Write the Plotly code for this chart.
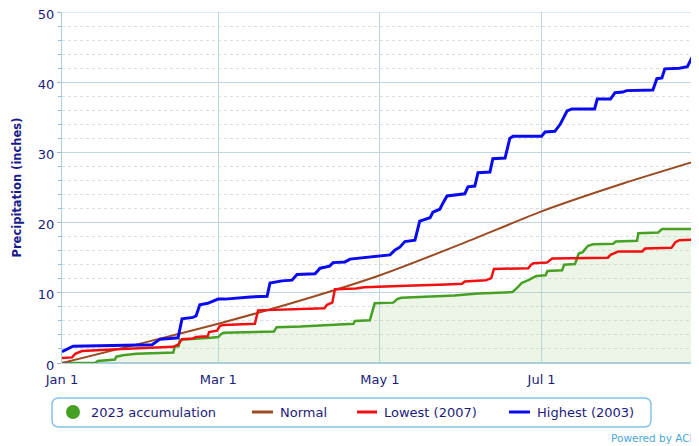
import pandas as pd
import plotly.graph_objects as go

START = pd.Timestamp("2023-01-01")

# ---- data (day offset from Jan 1, inches) ----
obs_day = [0, 12.5, 13.5, 20, 20.5, 23, 28, 33, 42, 42.6, 44, 44.5, 55, 56, 59, 60, 61, 80, 81, 90,
           110, 110.5, 116.2, 117, 118, 125, 126.5, 128, 138, 139, 148, 157, 170, 172, 173.5, 176, 179,
           182.5, 183.2, 188.7, 189.5, 193.6, 195, 196.5, 198.5, 200.5, 208, 209, 217, 217.5, 225, 226.5, 240.4]
obs_val = [0.0, 0.0, 0.3, 0.5, 0.9, 1.1, 1.3, 1.4, 1.5, 2.4, 2.4, 3.3, 3.5, 3.6, 3.7, 4.1, 4.3, 4.5, 5.1, 5.2,
           5.6, 6.0, 6.1, 7.1, 8.5, 8.6, 9.1, 9.3, 9.4, 9.5, 9.6, 9.9, 10.1, 10.8, 11.4, 11.8, 12.4,
           12.5, 13.1, 13.2, 14.0, 14.1, 15.6, 15.8, 16.7, 16.9, 17.0, 17.3, 17.4, 18.5, 18.6, 19.1, 19.1]

normal_day = [0, 31, 59, 90, 120, 151, 181, 212, 240.4]
normal_val = [0.0, 2.9, 5.6, 8.9, 12.5, 17.0, 21.6, 25.6, 28.9]

low_day = [0, 3.8, 5, 7.5, 22.6, 34, 42, 43.8, 45.3, 49.4, 50.6, 55, 55.5, 58.5, 59.6, 61, 72.8, 74, 88, 99,
           100, 102, 103, 111, 114, 120, 130, 145, 151, 152, 160, 162, 163, 176, 177, 178, 183, 185, 206, 207,
           210, 219, 220, 230, 231.5, 233, 240.4]
low_val = [0.7, 0.8, 1.3, 1.7, 2.0, 2.2, 2.3, 2.6, 3.4, 3.5, 3.7, 3.8, 4.4, 4.6, 5.3, 5.4, 5.6, 7.5, 7.7, 7.8,
           8.3, 8.6, 10.5, 10.6, 10.8, 10.9, 11.0, 11.2, 11.3, 11.6, 11.8, 12.1, 13.4, 13.5, 14.0, 14.2, 14.3, 14.9, 15.0, 15.4,
           15.9, 15.9, 16.3, 16.4, 17.2, 17.5, 17.6]

high_day = [0, 2.3, 4.2, 34, 36.2, 37, 40.8, 43.8, 45.3, 49.4, 50.6, 52, 55, 57, 58.9, 61.5, 64, 71, 77.4, 78.5,
            83, 86.8, 88.7, 95.5, 97.4, 101, 102.3, 106.8, 108.7, 113.6, 120, 123.8, 125.7, 127.5, 129.4, 133.2, 135, 138.9, 140, 142.6,
            143.8, 145.3, 152, 153.2, 155.8, 157, 161.5, 162.6, 167.2, 169, 170.2, 181, 182.3, 186, 188, 190.6, 192.5, 201, 202, 207,
            208.7, 211.7, 213, 223, 224.5, 226.4, 227.5, 233, 236, 238, 240.4]
high_val = [1.6, 2.0, 2.4, 2.6, 3.2, 3.4, 3.5, 3.6, 6.3, 6.5, 6.7, 8.3, 8.5, 8.8, 9.1, 9.1, 9.2, 9.4, 9.5, 11.4,
            11.7, 11.8, 12.6, 12.7, 13.5, 13.8, 14.3, 14.4, 14.8, 15.0, 15.2, 15.4, 16.1, 16.5, 17.3, 17.5, 20.2, 20.7, 21.5, 21.9,
            22.8, 23.8, 24.1, 25.1, 25.2, 27.1, 27.2, 29.1, 29.2, 32.0, 32.3, 32.3, 32.9, 33.0, 34.0, 35.9, 36.2, 36.2, 37.6, 37.6,
            38.5, 38.6, 38.8, 38.9, 40.5, 40.6, 41.9, 42.0, 42.2, 43.7, 44.0]

tick_dates = ["2023-01-01", "2023-03-01", "2023-05-01", "2023-07-01"]
tick_text = ["Jan 1", "Mar 1", "May 1", "Jul 1"]
y_ticks = [0, 10, 20, 30, 40, 50]

names = ["2023 accumulation", "Normal", "Lowest (2007)", "Highest (2003)"]
colors = ["#46a024", "#9a4b22", "#f01010", "#0a0af0"]


def to_dates(days):
    return [START + pd.Timedelta(days=d) for d in days]


# page body has an 8px margin: figure is shifted by 8px, so shrink it accordingly
OFF = 8
W, H = 699 - OFF, 446 - OFF
L, R, T, B = 62 - OFF, 0, 12 - OFF, 446 - 363
PW, PH = W - L - R, H - T - B


def px(x):  # reference pixel -> paper
    return (x - 62) / PW


def py(y):
    return (363 - y) / PH


NAVY = "#1c1c7a"
GRID = "#bcd6e6"
fig = go.Figure()
fig.add_trace(go.Scatter(x=to_dates(obs_day), y=obs_val, mode="lines", name=names[0],
                         line=dict(color=colors[0], width=2.5), fill="tozeroy",
                         fillcolor="rgba(170,210,140,0.22)", showlegend=False))
fig.add_trace(go.Scatter(x=to_dates(normal_day), y=normal_val, mode="lines", name=names[1],
                         line=dict(color=colors[1], width=2, shape="spline", smoothing=0.6), showlegend=False))
fig.add_trace(go.Scatter(x=to_dates(low_day), y=low_val, mode="lines", name=names[2],
                         line=dict(color=colors[2], width=2.5), showlegend=False))
fig.add_trace(go.Scatter(x=to_dates(high_day), y=high_val, mode="lines", name=names[3],
                         line=dict(color=colors[3], width=3), showlegend=False))

xmax = START + pd.Timedelta(days=max(high_day))
fig.update_xaxes(range=[START, xmax], tickvals=tick_dates, ticktext=tick_text,
                 showgrid=True, gridcolor=GRID, gridwidth=1, ticks="",
                 tickfont=dict(family="DejaVu Sans", size=13, color=NAVY),
                 showline=False, zeroline=False, ticklabeloverflow="allow",
                 ticklabelstandoff=7)
fig.update_yaxes(range=[0, 50], tickvals=y_ticks, showgrid=True, gridcolor=GRID,
                 ticks="outside", ticklen=4, tickcolor="#9fb8cc", ticklabeloverflow="allow",
                 ticklabelshift=2,
                 tickfont=dict(family="DejaVu Sans", size=13, color=NAVY),
                 showline=True, linecolor="#a8cfe4", linewidth=1, zeroline=True,
                 zerolinecolor="#a8cfe4", zerolinewidth=1.5,
                 minor=dict(dtick=2, showgrid=True, gridcolor="#d6dfe8", griddash="dot",
                            ticks="outside", ticklen=3, tickcolor="#9fb8cc"))

shapes = []
# top grid line at 50 (edge of plot area)
shapes.append(dict(type="line", xref="paper", yref="y", x0=0, x1=1, y0=50, y1=50,
                   line=dict(color=GRID, width=1), layer="below"))
# legend box (rounded)
x0, x1, y0, y1, r = 52, 651, 398, 427, 7
rx, ry = r / PW, r / PH
X0, X1, Y0, Y1 = px(x0), px(x1), py(y0), py(y1)
path = (f"M {X0+rx},{Y0} L {X1-rx},{Y0} Q {X1},{Y0} {X1},{Y0-ry} L {X1},{Y1+ry} "
        f"Q {X1},{Y1} {X1-rx},{Y1} L {X0+rx},{Y1} Q {X0},{Y1} {X0},{Y1+ry} "
        f"L {X0},{Y0-ry} Q {X0},{Y0} {X0+rx},{Y0} Z")
shapes.append(dict(type="path", xref="paper", yref="paper", path=path,
                   line=dict(color="#86c4e6", width=1.5), fillcolor="rgba(0,0,0,0)"))
ly = 412
shapes.append(dict(type="circle", xref="paper", yref="paper", xsizemode="pixel", ysizemode="pixel",
                   xanchor=px(73), yanchor=py(ly), x0=-7, x1=7, y0=-7, y1=7,
                   fillcolor=colors[0], line=dict(width=0)))
for (a, b), c in zip([(252, 273), (357, 377), (509, 530)], colors[1:]):
    shapes.append(dict(type="line", xref="paper", yref="paper", x0=px(a), x1=px(b),
                       y0=py(ly), y1=py(ly), line=dict(color=c, width=3)))

annotations = []
for xs, t in zip([89, 278, 382, 535], names):
    annotations.append(dict(x=px(xs), y=py(ly), xref="paper", yref="paper", text=t, showarrow=False,
                            xanchor="left", yanchor="middle",
                            font=dict(family="DejaVu Sans", size=13, color=NAVY)))
annotations.append(dict(x=px(695), y=py(438), xref="paper", yref="paper", text="Powered by ACI",
                        showarrow=False, xanchor="right", yanchor="middle",
                        font=dict(family="DejaVu Sans", size=10.5, color="#4aa8d8")))
annotations.append(dict(x=px(16), y=0.5, xref="paper", yref="paper", text="<b>Precipitation (inches)</b>",
                        showarrow=False, textangle=-90, xanchor="center", yanchor="middle",
                        font=dict(family="DejaVu Sans", size=11.5, color="#1a1a8c")))

fig.update_layout(width=W, height=H, margin=dict(l=L, r=R, t=T, b=B, autoexpand=False),
                  paper_bgcolor="white", plot_bgcolor="white", showlegend=False,
                  shapes=shapes, annotations=annotations)
fig.write_html("out.html")
